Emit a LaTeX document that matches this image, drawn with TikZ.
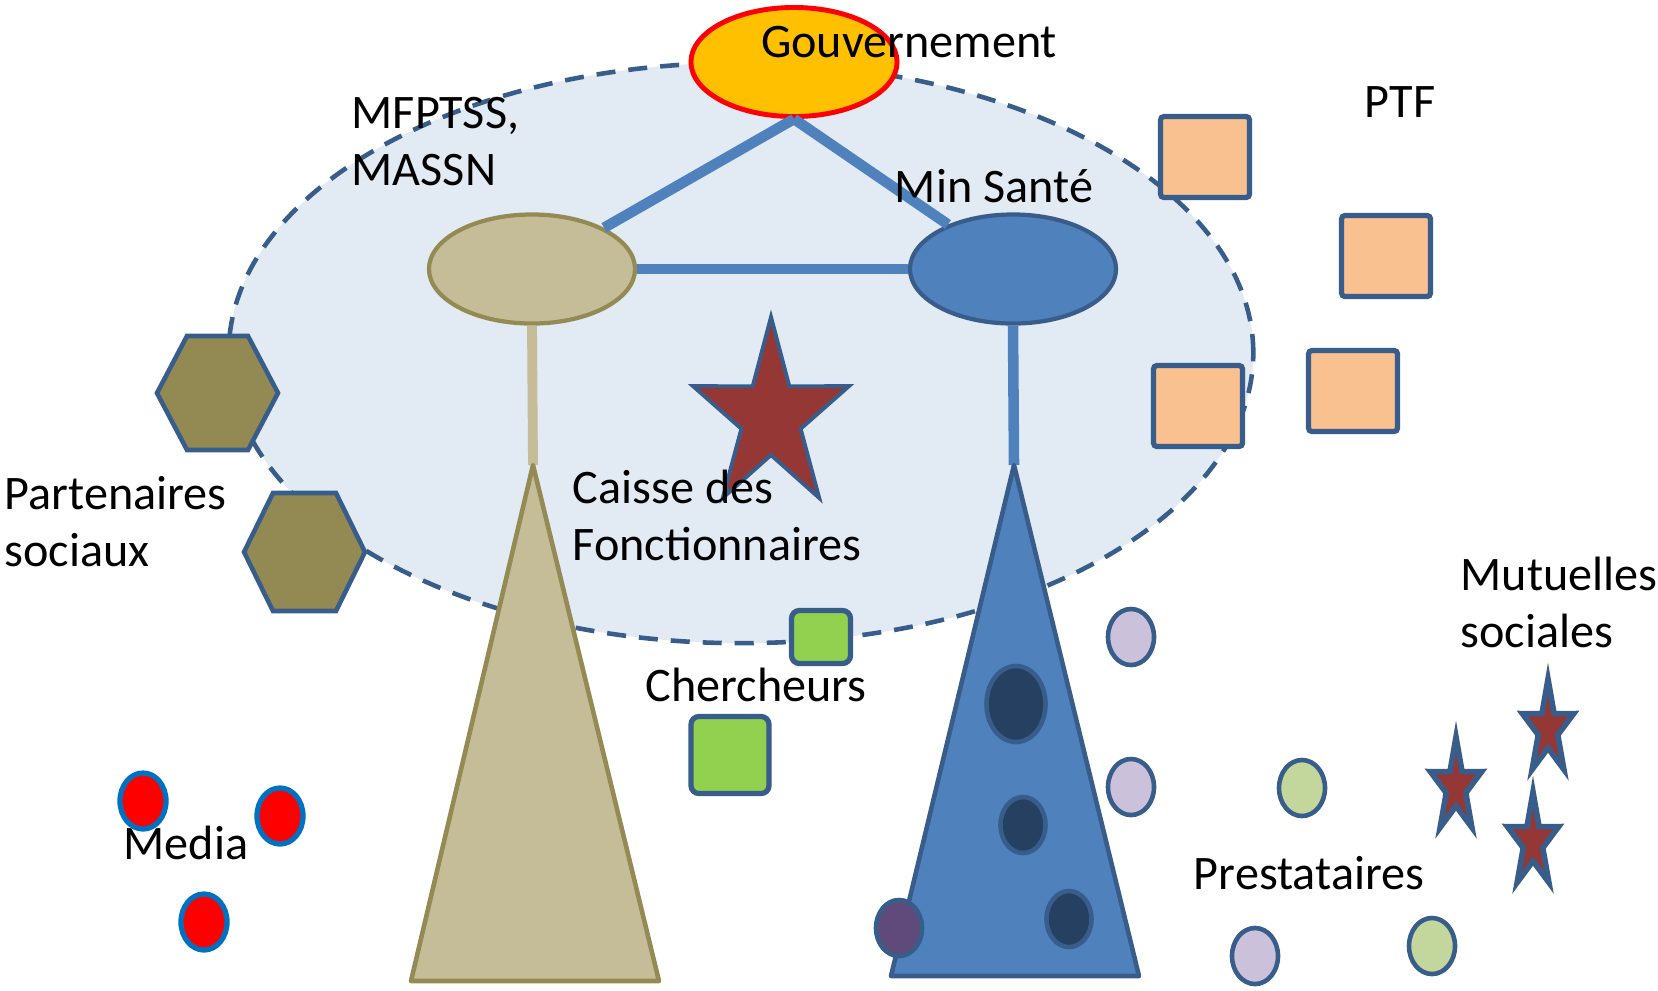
\documentclass[tikz,border=0pt]{standalone}
\usepackage{fontspec}
\setmainfont{Carlito}
\usetikzlibrary{shapes.geometric}
\definecolor{bgblue}{HTML}{E2EAF4}
\definecolor{lineblue}{HTML}{385D8A}
\definecolor{connblue}{HTML}{4F81BD}
\definecolor{tanfill}{HTML}{C4BD97}
\definecolor{tanline}{HTML}{948A54}
\definecolor{govfill}{HTML}{FFC000}
\definecolor{hexfill}{HTML}{938953}
\definecolor{peach}{HTML}{F9C090}
\definecolor{chgreen}{HTML}{92D050}
\definecolor{starfill}{HTML}{953735}
\definecolor{darkdot}{HTML}{254061}
\definecolor{purpdot}{HTML}{604A7B}
\definecolor{lavdot}{HTML}{CCC1DA}
\definecolor{greendot}{HTML}{C3D69B}
\definecolor{medialine}{HTML}{0070C0}
\tikzset{starpic/.pic={
  \path[pic actions] (270:1) -- (306:#1) -- (342:1) -- (18:#1) -- (54:1) -- (90:#1)
    -- (126:1) -- (162:#1) -- (198:1) -- (234:#1) -- cycle;
}}

\begin{document}
\begin{tikzpicture}[x=0.01cm,y=-0.01cm,
font=\fontsize{13.7pt}{16.2pt}\selectfont,
txt/.style={inner sep=0pt, align=left},
zone/.style={fill=bgblue, draw=lineblue, line width=1.3pt, dash pattern=on 0.19cm off 0.13cm},
bigoval/.style={ellipse, inner sep=0pt, minimum width=2.06cm, minimum height=1.09cm, line width=1.2pt},
dot/.style={ellipse, inner sep=0pt, minimum width=0.46cm, minimum height=0.56cm, draw=lineblue, line width=1.3pt},
mediadot/.style={dot, fill=red, draw=medialine, line width=1.5pt},
conn/.style={connblue, line width=3pt},
hexa/.style={fill=hexfill, draw=lineblue, line width=1.3pt},
ptfbox/.style={rectangle, inner sep=0pt, minimum width=0.89cm, minimum height=0.81cm, fill=peach, draw=lineblue, line width=1.5pt, rounded corners=1pt},
cherbox/.style={rectangle, inner sep=0pt, fill=chgreen, draw=lineblue, line width=1.5pt, rounded corners=0.08cm},
bigstar/.style={fill=starfill, draw=lineblue, line width=1.1pt, line join=miter},
smallstar/.style={fill=starfill, draw=lineblue, line width=1.6pt, line join=miter}
]
\useasboundingbox (0,0) rectangle (1658,990);

\draw[zone] (741,353) ellipse [x radius=5.12cm, y radius=2.9cm];

\node[bigoval, fill=tanfill, draw=tanline] (mfp) at (532,269) {};
\node[bigoval, fill=connblue, draw=lineblue] (sante) at (1013,269) {};
\node[bigoval, fill=govfill, draw=red, line width=1.4pt] (gouv) at (794,62) {};

\draw[conn] (gouv.south) -- (mfp);
\draw[conn] (gouv.south) -- (sante);
\draw[conn] (mfp) -- (sante);

\coordinate (ltop) at (533,465);
\coordinate (rtop) at (1014,465);
\draw[tanfill, line width=2.8pt] (mfp.south) -- (ltop);
\draw[conn] (sante.south) -- (rtop);
\draw[fill=tanfill, draw=tanline, line width=1.3pt, line join=round] (ltop) -- (411,981) -- (659,981) -- cycle;
\draw[fill=connblue, draw=lineblue, line width=1.3pt, line join=round] (rtop) -- (891,976) -- (1139,976) -- cycle;

\node[dot, fill=darkdot, minimum width=0.59cm, minimum height=0.76cm] (sa1) at (1016,704) {};
\node[dot, fill=darkdot, minimum width=0.45cm] (sa2) at (1023,825) {};
\node[dot, fill=darkdot, minimum width=0.45cm] (sa3) at (1069,919) {};
\node[dot, fill=purpdot] (sa4) at (899,928) {};

\draw[hexa] (217,393) ++(-60,0) -- ++(30,-57) -- ++(61,0) -- ++(30,57) -- ++(-30,57) -- ++(-61,0) -- cycle;
\draw[hexa] (304,552) ++(-60,0) -- ++(29,-59) -- ++(63,0) -- ++(29,59) -- ++(-29,59) -- ++(-63,0) -- cycle;

\node[ptfbox] (ptfa) at (1205,157) {};
\node[ptfbox] (ptfb) at (1386,256) {};
\node[ptfbox] (ptfc) at (1198,406) {};
\node[ptfbox] (ptfd) at (1353,391) {};

\node[cherbox, minimum width=0.59cm, minimum height=0.53cm] (chera) at (821,637) {};
\node[cherbox, minimum width=0.78cm, minimum height=0.77cm] (cherb) at (730,755) {};

\pic[bigstar, xscale=82, yscale=100] at (771,417) {starpic=0.38};
\pic[smallstar, xscale=27, yscale=50] at (1548,729) {starpic=0.38};
\pic[smallstar, xscale=27, yscale=50] at (1456,787) {starpic=0.38};
\pic[smallstar, xscale=27, yscale=50] at (1533,842) {starpic=0.38};

\node[mediadot] (meda) at (143,801) {};
\node[mediadot] (medb) at (280,816) {};
\node[mediadot] (medc) at (204,922) {};

\node[dot, fill=lavdot] (pra) at (1131,637) {};
\node[dot, fill=lavdot] (prb) at (1131,787) {};
\node[dot, fill=lavdot] (prc) at (1255,956) {};
\node[dot, fill=greendot] (prd) at (1302,788) {};
\node[dot, fill=greendot] (pre) at (1432,946) {};

\node[txt] (gouvtxt) at (909,42) {Gouvernement};
\node[txt, anchor=west] (mfptxt) at (351,142) {MFPTSS,\\MASSN};
\node[txt] (santetxt) at (994,186) {Min Santé};
\node[txt] (ptftxt) at (1400,102) {PTF};
\node[txt, anchor=west] (caissetxt) at (572,515) {Caisse des\\Fonctionnaires};
\node[txt, anchor=west] (parttxt) at (4,522) {Partenaires\\sociaux};
\node[txt] (chertxt) at (756,685) {Chercheurs};
\node[txt, anchor=west] (mututxt) at (1460,602) {Mutuelles\\sociales};
\node[txt] (prestxt) at (1309,873) {Prestataires};
\node[txt] (mediatxt) at (186,843) {Media};
\end{tikzpicture}
\end{document}
